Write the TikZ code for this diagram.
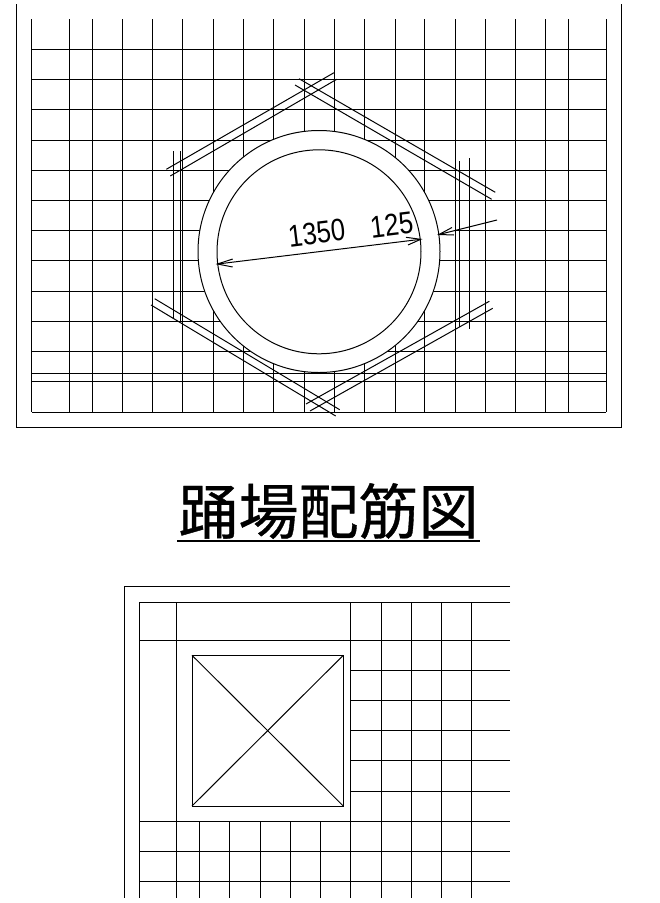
\documentclass[tikz,border=0pt]{standalone}
\usepackage{graphicx}
\usepackage{fontspec}
\setmainfont{Liberation Sans}
\newfontfamily\cjkfont[FakeBold=0.6]{Noto Sans CJK JP}
\tikzset{
  plan/.style={line width=1pt,black},
  dimtext/.style={font=\fontsize{31}{31}\selectfont,inner sep=0pt,rotate=7},
  titletext/.style={font=\cjkfont\fontsize{60}{60}\selectfont,inner sep=0pt}
}
\begin{document}
\begin{tikzpicture}[x=1pt,y=-1pt,plan]
\useasboundingbox (0,0) rectangle (660,903);
% upper frame
\draw (16.3,4) -- (16.3,427) -- (621.3,427) -- (621.3,4);
% upper grid
\foreach \x in {31.8,69.7,92.3,122.3,152.7,182.7,213.3,243.3,273.7,304,334,364.3,395,424.7,455,485.3,515.3,545.7,568.7,606.3}
  \draw (\x,19) -- (\x,412.3);
\foreach \y in {49.3,79.3,109.7,140,170.3,200.3,260.7,291.3,321,351.7,373,381.7,412.3}
  \draw (31.8,\y) -- (606.3,\y);
\draw (31.8,230.3) -- (319,230.3);
\draw (455,230.3) -- (606.3,230.3);
% ring
\fill[white] (319,251.5) circle[radius=121];
\draw (319,251.5) circle[radius=121];
\draw (319,251.8) circle[radius=102];
% rebar verticals
\draw (173,151) -- (173,318.7);
\draw (180.3,151) -- (180.3,321);
\draw (459.3,161) -- (459.3,327.3);
\draw (469,158) -- (469,328.7);
% rebar diagonals
\draw (166.3,169.3) -- (334,72.7);
\draw (170.3,176) -- (336.7,79.3);
\draw (299,78.7) -- (495.3,192.3);
\draw (295,85) -- (491.7,199.3);
\draw (154.7,298.7) -- (339.7,409.7);
\draw (151,305) -- (335.7,416);
\draw (489.3,301.3) -- (306,404);
\draw (492.7,308.3) -- (310,411);
% diameter dimension
\coordinate (dl) at (217.5,264);
\coordinate (dr) at (420.7,239.3);
\draw (dl) -- (dr);
\draw (232.7,259) -- (dl) -- (232.7,267);
\draw (406,237.3) -- (dr) -- (408,245);
% wall leader
\coordinate (wt) at (439,234.5);
\draw (497,220) -- (wt);
\draw (452,227.5) -- (wt) -- (454,235);
% dimension text
\node[dimtext] (d1350) at (316.7,233) {\scalebox{.83}[1]{1350}};
\node[dimtext] (d125) at (391.7,225) {\scalebox{.83}[1]{125}};
% title
\node[titletext] (title) at (328.5,511) {踊場配筋図};
\draw[line width=2pt] (177.3,540.7) -- (480,540.7);
% lower frame
\draw (510,586.7) -- (124,586.7) -- (124,898);
\draw (510,602) -- (139,602) -- (139,898);
\draw (176.7,602) -- (176.7,898);
\foreach \y in {640,821,851.3,881.7}
  \draw (139,\y) -- (510,\y);
\foreach \y in {670,700,730.3,760.3,791}
  \draw (350.7,\y) -- (510,\y);
\foreach \x in {199.3,229.7,260,290.3,320.5}
  \draw (\x,821) -- (\x,898);
\foreach \x in {350.7,381,411,441.3,471.3}
  \draw (\x,602) -- (\x,898);
% column square
\draw (192,655.3) rectangle (343.3,806);
\draw (192,655.3) -- (343.3,806);
\draw (192,806) -- (343.3,655.3);
\end{tikzpicture}
\end{document}
